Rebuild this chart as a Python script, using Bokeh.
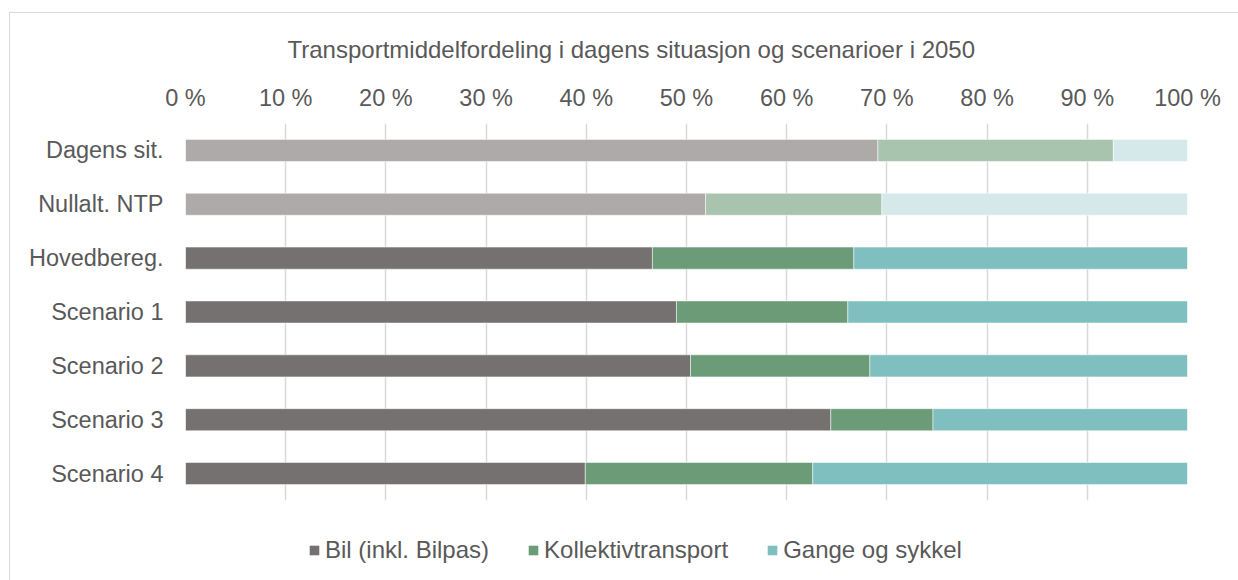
from bokeh.plotting import figure
from bokeh.layouts import column
from bokeh.models import ColumnDataSource, FactorRange, Range1d, FixedTicker, Legend, LegendItem
from bokeh.embed import file_html
from bokeh.resources import INLINE

# ---- data ----
categories = ["Dagens sit.", "Nullalt. NTP", "Hovedbereg.", "Scenario 1",
              "Scenario 2", "Scenario 3", "Scenario 4"]
bil = [69.1, 51.9, 46.6, 49.0, 50.4, 64.4, 39.9]
kollektiv = [23.5, 17.6, 20.1, 17.1, 17.9, 10.2, 22.7]
gange = [7.4, 30.5, 33.3, 33.9, 31.7, 25.4, 37.4]
series_names = ["Bil (inkl. Bilpas)", "Kollektivtransport", "Gange og sykkel"]
tick_values = [0, 10, 20, 30, 40, 50, 60, 70, 80, 90, 100]
tick_labels = ["0 %", "10 %", "20 %", "30 %", "40 %", "50 %", "60 %",
               "70 %", "80 %", "90 %", "100 %"]
title_text = "Transportmiddelfordeling i dagens situasjon og scenarioer i 2050"

# ---- styles ----
FONT = "Liberation Sans"
TXT = "#595959"
GRID = "#D9D9D9"
dark = ["#767171", "#6B9B77", "#7FBFC0"]
light = ["#AEAAAA", "#A9C4AE", "#D5E9EB"]
n_light = 2  # first two rows drawn in lighter shades

rows = len(categories)
b0 = [0.0] * rows
b1 = bil
k1 = [b + k for b, k in zip(bil, kollektiv)]
g1 = [b + k + g for b, k, g in zip(bil, kollektiv, gange)]
cols = [light if i < n_light else dark for i in range(rows)]

src = ColumnDataSource(dict(
    cat=categories, b0=b0, b1=b1, k1=k1, g1=g1,
    c_bil=[c[0] for c in cols], c_kol=[c[1] for c in cols], c_gan=[c[2] for c in cols],
))

W = 1238
p = figure(width=W, height=522,
           y_range=FactorRange(factors=categories[::-1], range_padding=0),
           x_range=Range1d(0, 100),
           x_axis_location="above",
           output_backend="svg", toolbar_location=None,
           min_border_left=185, min_border_right=51,
           min_border_top=123, min_border_bottom=22)

bh = 0.41
bar_kw = dict(height=bh, source=src, line_color="white", line_alpha=0.5, line_width=1)
p.hbar(y="cat", left="b0", right="b1", fill_color="c_bil", **bar_kw)
p.hbar(y="cat", left="b1", right="k1", fill_color="c_kol", **bar_kw)
p.hbar(y="cat", left="k1", right="g1", fill_color="c_gan", **bar_kw)

# axes
p.xaxis.ticker = FixedTicker(ticks=tick_values)
p.xaxis.major_label_overrides = {v: l for v, l in zip(tick_values, tick_labels)}
for ax in (p.xaxis, p.yaxis):
    ax.axis_line_color = None
    ax.major_tick_line_color = None
    ax.minor_tick_line_color = None
    ax.major_tick_out = 0
    ax.major_tick_in = 0
    ax.major_label_text_font = FONT
    ax.major_label_text_font_size = "23.5px"
    ax.major_label_text_color = TXT
p.xaxis.major_label_standoff = 13
p.yaxis.major_label_standoff = 22

p.xgrid.grid_line_color = GRID
p.xgrid.grid_line_width = 1.5
p.ygrid.grid_line_color = None
p.outline_line_color = None

# title
p.title.text = title_text
p.title.align = "left"
p.title.offset = 102
p.title.standoff = 38
p.title.text_font = FONT
p.title.text_font_size = "24px"
p.title.text_font_style = "normal"
p.title.text_color = TXT

p.styles = {
    "background": f"linear-gradient({GRID},{GRID}) 9px 12px / 1px 100% no-repeat, "
                  f"linear-gradient({GRID},{GRID}) 9px 12px / 100% 1px no-repeat, white"
}
p.border_fill_alpha = 0

# legend strip below the chart (its frame is aligned with the chart's frame)
lg = figure(width=W, height=58, x_range=Range1d(0, 1), y_range=Range1d(0, 1),
            x_axis_type=None, y_axis_type=None,
            output_backend="svg", toolbar_location=None, min_border=0)
lg.grid.visible = False
lg.outline_line_color = None
lg.background_fill_alpha = 0
lg.border_fill_alpha = 0
lg.styles = {"background": f"linear-gradient({GRID},{GRID}) 9px 0 / 1px 100% no-repeat, white"}

# zero-width swatch renderers (only used for the legend glyphs)
swatches = [lg.hbar(y=[0], left=[0], right=[0], height=0, fill_color=c, line_color=None)
            for c in dark]
legend = Legend(items=[LegendItem(label=n, renderers=[r]) for n, r in zip(series_names, swatches)],
                orientation="horizontal", location=(123, 16),
                glyph_width=12, glyph_height=12, label_standoff=5, spacing=38,
                padding=0, margin=0, border_line_color=None, background_fill_alpha=0,
                label_text_font=FONT, label_text_font_size="24px", label_text_color=TXT)
lg.add_layout(legend)

open("out.html", "w").write(file_html(column(p, lg), INLINE))
